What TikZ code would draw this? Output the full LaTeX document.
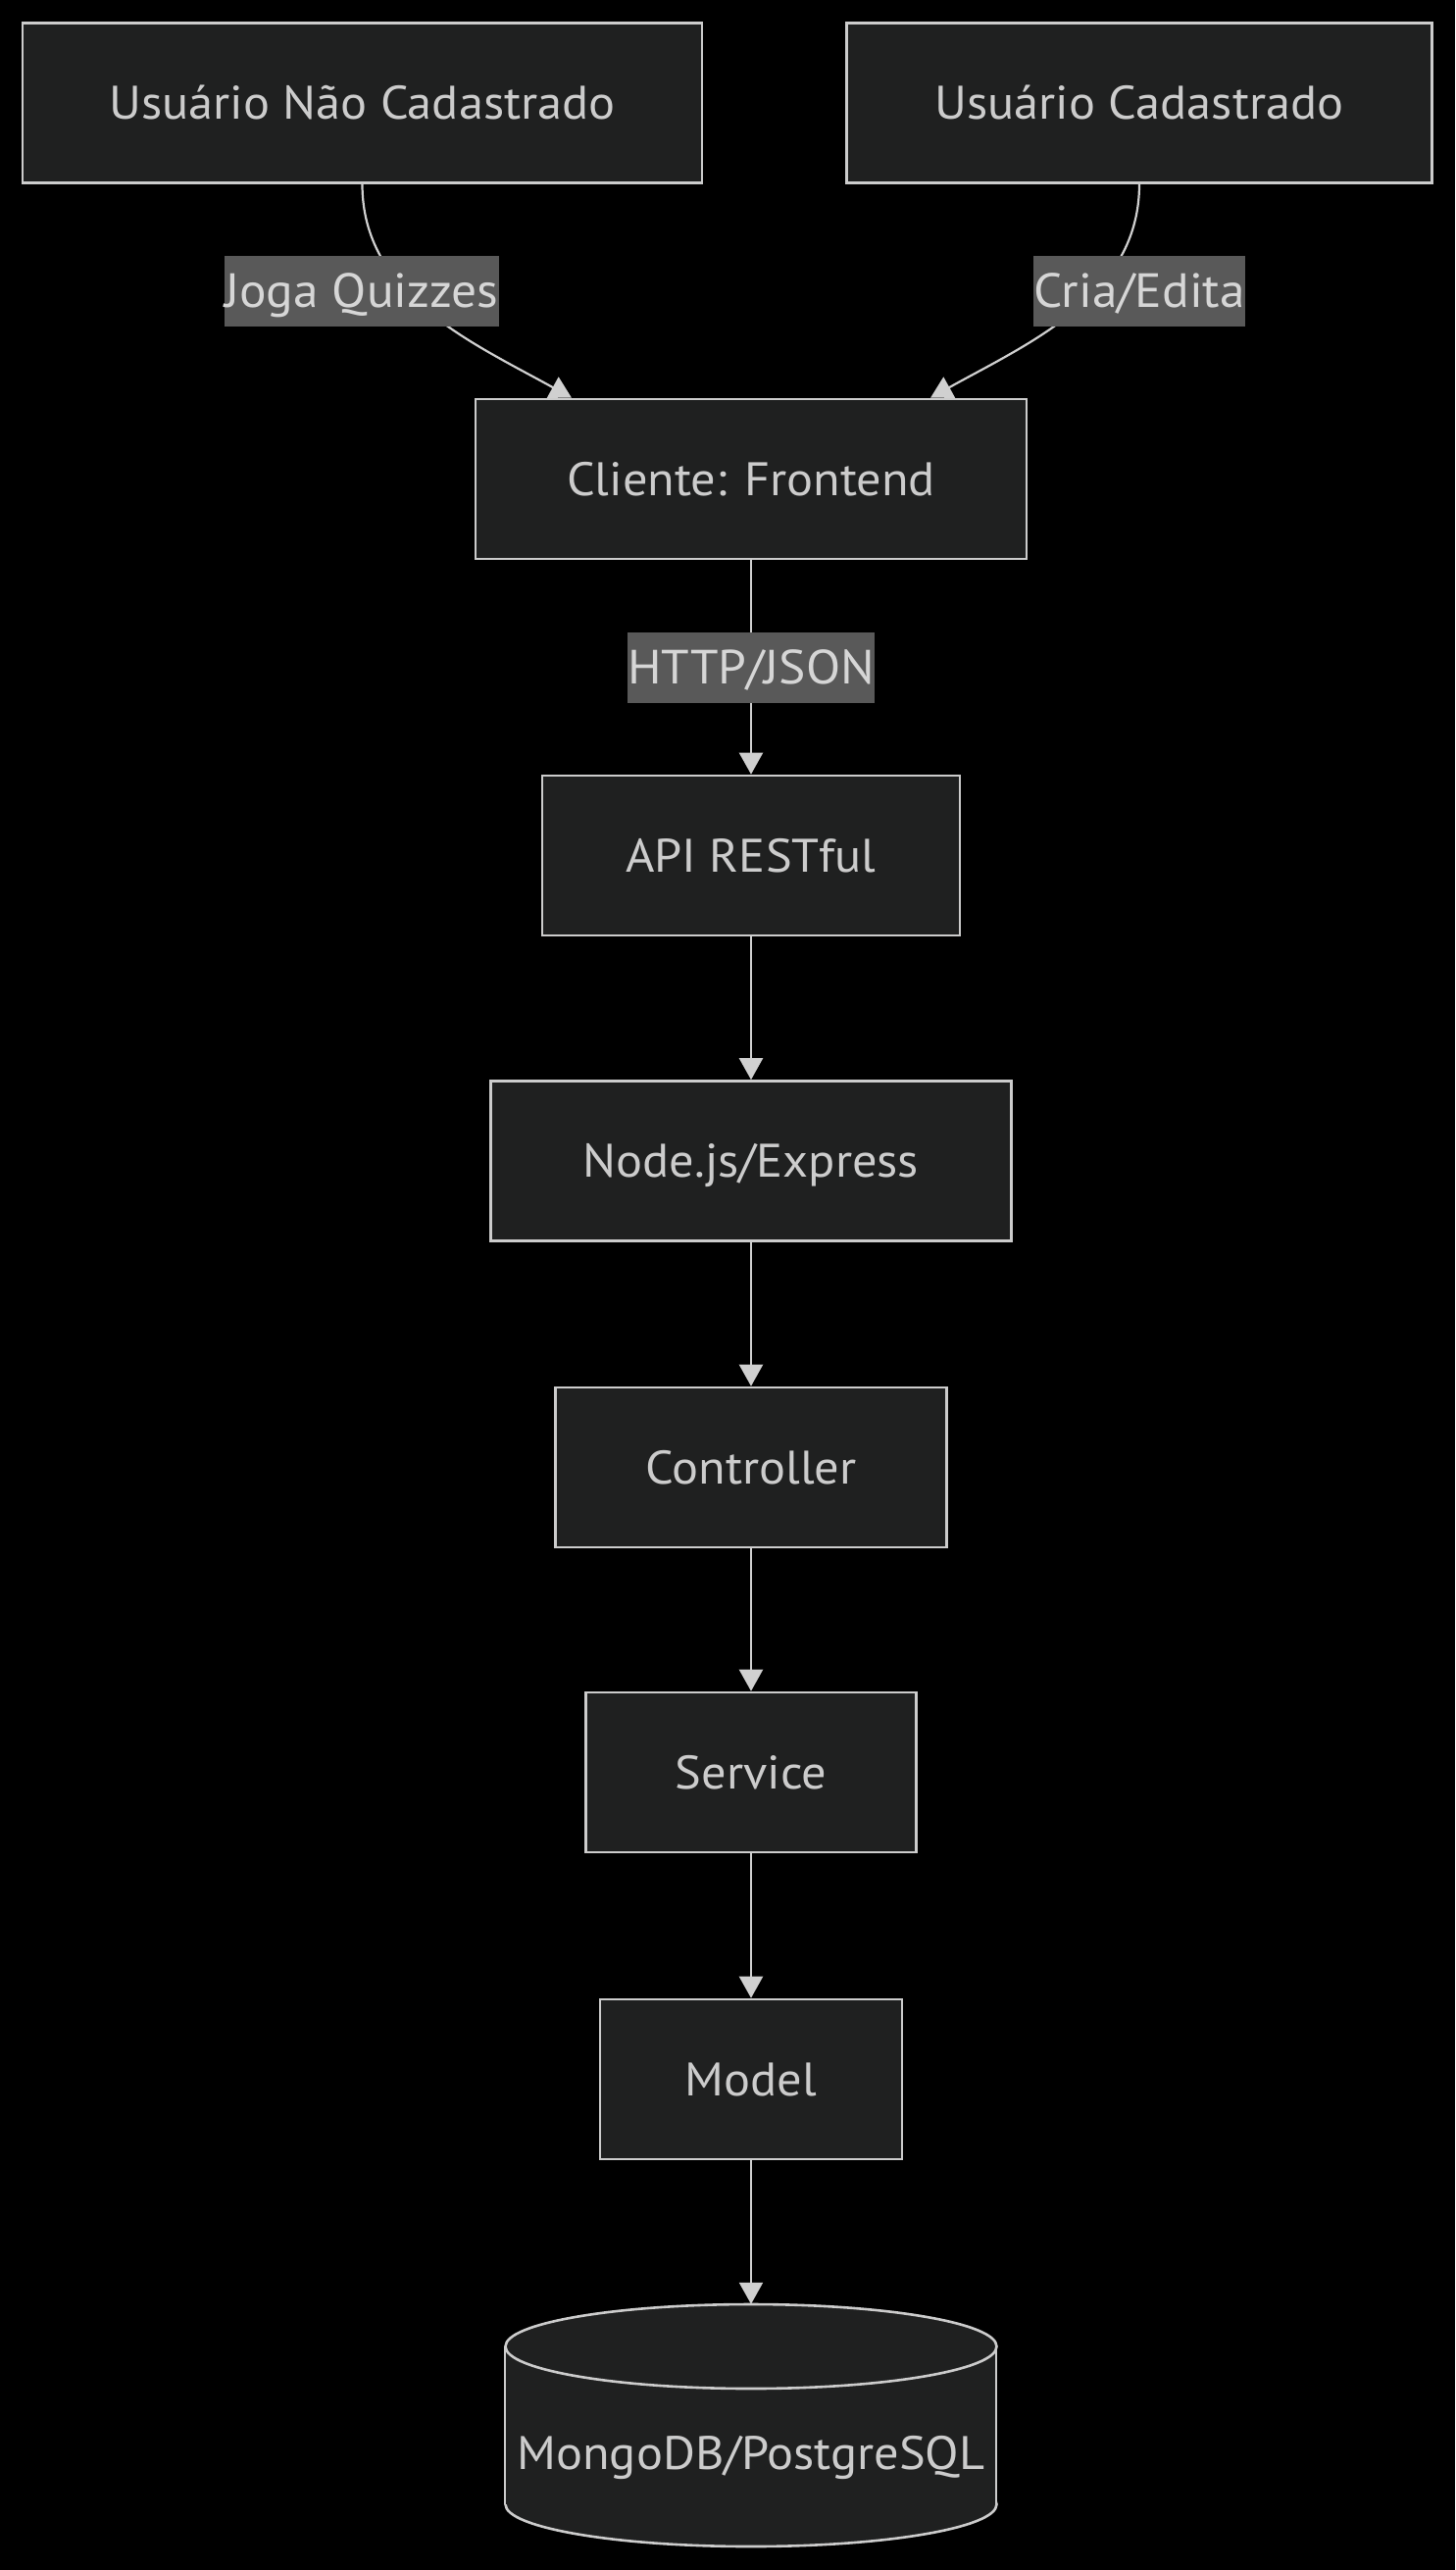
\documentclass[tikz,border=0pt]{standalone}
\usepackage{fontspec}
\setmainfont{PT Sans}[FakeStretch=1.05]
\usetikzlibrary{arrows.meta}
\definecolor{bgc}{HTML}{000000}
\definecolor{nodefill}{HTML}{1F2020}
\definecolor{nodeline}{HTML}{CCCCCC}
\definecolor{txt}{HTML}{CCCCCC}
\definecolor{lbltxt}{HTML}{D6D6D6}
\definecolor{lblbg}{HTML}{595959}
\definecolor{edgec}{HTML}{D0D0D0}
\begin{document}
\begin{tikzpicture}[x=1pt,y=-1pt,
  box/.style={draw=nodeline, fill=nodefill, line width=2.6pt, text=txt,
    font=\fontsize{48}{52}\selectfont, minimum height=163pt,
    text height=33pt, text depth=0pt, inner sep=0pt},
  elabel/.style={fill=lblbg, text=lbltxt, font=\fontsize{49}{52}\selectfont,
    inner xsep=0pt, minimum height=72pt, text height=33pt, text depth=0pt},
  edge/.style={draw=edgec, line width=2.2pt, -{Triangle[length=22pt,width=24pt]}},
  dbshape/.style={draw=nodeline, fill=nodefill, line width=2.6pt},
  dbtext/.style={text=txt, font=\fontsize{48}{52}\selectfont, minimum width=501pt,
    minimum height=247pt, text height=90pt, text depth=0pt, inner sep=0pt}]
\fill[bgc] (0,0) rectangle (1484,2621);
\useasboundingbox (0,0) rectangle (1484,2621);

% cylinder body
\filldraw[dbshape] (766,2554) ellipse [x radius=250.5pt, y radius=43pt];
\fill[nodefill] (515,2393) rectangle (1016,2554);
\draw[dbshape] (515,2393) -- (515,2554);
\draw[dbshape] (1016,2393) -- (1016,2554);
\filldraw[dbshape] (766,2393) ellipse [x radius=250.5pt, y radius=43pt];

\node[box, minimum width=693pt] (u1) at (369.5,105) {Usuário Não Cadastrado};
\node[box, minimum width=597pt] (u2) at (1162,105) {Usuário Cadastrado};
\node[box, minimum width=562pt] (cli) at (766,488.5) {Cliente: Frontend};
\node[box, minimum width=426pt] (api) at (766,872.5) {API RESTful};
\node[box, minimum width=531pt] (njs) at (766,1184) {Node.js/Express};
\node[box, minimum width=399pt] (ctrl) at (766,1496.5) {Controller};
\node[box, minimum width=337pt] (svc) at (766,1807.5) {Service};
\node[box, minimum width=308pt] (model) at (766,2120.5) {Model};
\node[dbtext] (db) at (766,2473.5) {MongoDB/PostgreSQL};

\draw[edge] (u1.south) .. controls +(0,113) and +(-103,-57) .. ([xshift=-183pt]cli.north);
\draw[edge] (u2.south) .. controls +(0,113) and +(103,-57) .. ([xshift=183pt]cli.north);
\node[elabel] (l1) at (369,297) {Joga Quizzes};
\node[elabel] (l2) at (1162,297) {Cria/Edita};

\draw[edge] (cli.south) -- node[elabel] (l3) {HTTP/JSON} (api.north);
\draw[edge] (api.south) -- (njs.north);
\draw[edge] (njs.south) -- (ctrl.north);
\draw[edge] (ctrl.south) -- (svc.north);
\draw[edge] (svc.south) -- (model.north);
\draw[edge] (model.south) -- (db.north);
\end{tikzpicture}
\end{document}
